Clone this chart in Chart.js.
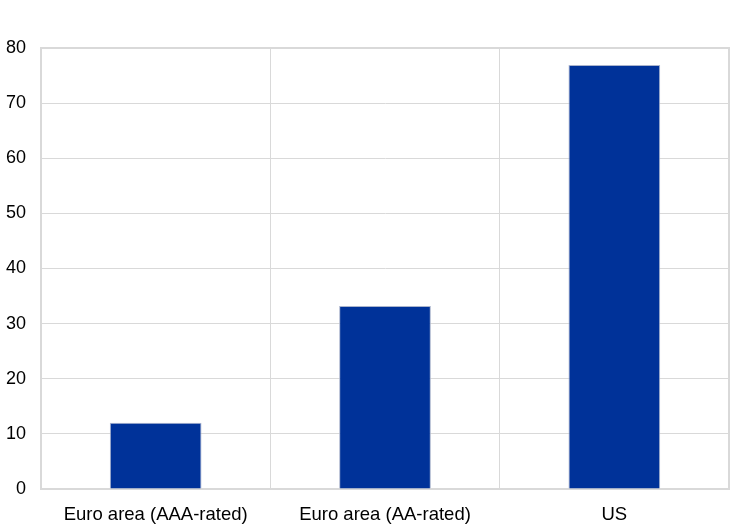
<!DOCTYPE html>
<html>
<head>
<meta charset="utf-8">
<script src="https://cdn.jsdelivr.net/npm/chart.js@4"></script>
<style>
    html, body { margin: 0; padding: 0; background: #fff; }
</style>
</head>
<body>
<canvas id="myChart" width="745" height="531"></canvas>
<script>
const labels = [
    'Euro area (AAA-rated)',
    'Euro area (AA-rated)',
    'US',
];

const values = [12.0, 33.2, 76.9];

const yTicks = [0, 10, 20, 30, 40, 50, 60, 70, 80];

const gridColor = 'rgb(217, 217, 217)';

const data = {
    labels: labels,
    datasets: [
        {
            data: values,
            backgroundColor: 'rgb(0, 50, 153)',
            borderColor: 'rgb(170, 180, 205)',
            borderWidth: 1,
            categoryPercentage: 0.8,
            barPercentage: 0.5,
        }
    ]
};

const config = {
    type: 'bar',
    data: data,
    options: {
        responsive: false,
        animation: false,
        layout: {
            padding: { top: 48, right: 16, left: 0, bottom: 0 }
        },
        plugins: {
            legend: { display: false },
            tooltip: { enabled: false }
        },
        scales: {
            x: {
                offset: true,
                grid: {
                    offset: true,
                    color: gridColor,
                    lineWidth: 1,
                    drawTicks: false
                },
                border: { color: gridColor, width: 2 },
                ticks: {
                    color: '#000',
                    padding: 15,
                    font: { family: 'Liberation Sans, Arial', size: 18.5 }
                },
                afterFit: function (scale) {
                    scale.height = 531 - 489;
                }
            },
            y: {
                min: 0,
                max: 80,
                afterBuildTicks: function (scale) {
                    scale.ticks = yTicks.map(v => ({ value: v }));
                },
                grid: {
                    color: gridColor,
                    lineWidth: 1,
                    drawTicks: false
                },
                border: { color: gridColor, width: 2 },
                ticks: {
                    color: '#000',
                    padding: 15,
                    font: { family: 'Liberation Sans, Arial', size: 18 }
                },
                afterFit: function (scale) {
                    scale.width = 41;
                }
            }
        }
    },
    plugins: [{
        id: 'frame',
        afterDraw(chart) {
            const a = chart.chartArea;
            const ctx = chart.ctx;
            ctx.save();
            ctx.strokeStyle = gridColor;
            ctx.lineWidth = 2;
            ctx.beginPath();
            ctx.moveTo(a.left, a.top);
            ctx.lineTo(a.right, a.top);
            ctx.lineTo(a.right, a.bottom);
            ctx.stroke();
            ctx.restore();
        }
    }]
};

let myChart = new Chart(
    document.getElementById('myChart'),
    config
);
</script>
</body>
</html>
